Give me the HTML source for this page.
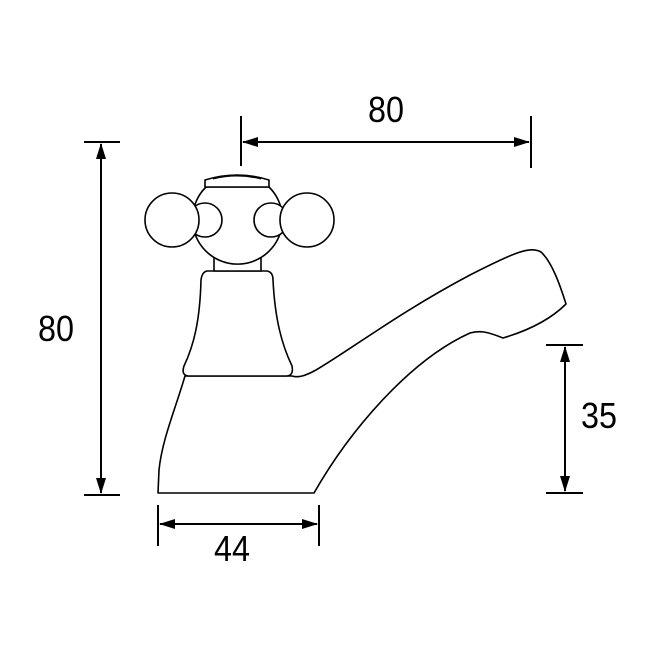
<!DOCTYPE html>
<html><head><style>html,body{margin:0;padding:0;background:#fff}</style></head>
<body>
<svg width="650" height="650" viewBox="0 0 650 650" xmlns="http://www.w3.org/2000/svg">
<defs>
<marker id="a" markerWidth="16" markerHeight="10" refX="15" refY="5" orient="auto" markerUnits="userSpaceOnUse">
<path d="M0,0 L16,5 L0,10 Z" fill="#000"/></marker>
</defs>
<g fill="none" stroke="#000" stroke-width="2">
<!-- dimension lines -->
<line x1="241" y1="116" x2="241" y2="166"/>
<line x1="531" y1="116" x2="531" y2="168"/>
<line x1="386" y1="142" x2="243" y2="142" marker-end="url(#a)"/>
<line x1="386" y1="142" x2="529" y2="142" marker-end="url(#a)"/>
<line x1="84" y1="142" x2="120" y2="142"/>
<line x1="84" y1="495" x2="120" y2="495"/>
<line x1="101" y1="320" x2="101" y2="144" marker-end="url(#a)"/>
<line x1="101" y1="320" x2="101" y2="493" marker-end="url(#a)"/>
<line x1="546" y1="345" x2="583" y2="345"/>
<line x1="546" y1="493" x2="583" y2="493"/>
<line x1="565" y1="420" x2="565" y2="347" marker-end="url(#a)"/>
<line x1="565" y1="420" x2="565" y2="491" marker-end="url(#a)"/>
<line x1="158" y1="505" x2="158" y2="546"/>
<line x1="319" y1="505" x2="319" y2="546"/>
<line x1="238" y1="524" x2="160" y2="524" marker-end="url(#a)"/>
<line x1="238" y1="524" x2="317" y2="524" marker-end="url(#a)"/>
</g>
<g fill="#fff" stroke="#000" stroke-width="1.6" stroke-linejoin="round">
<!-- base and spout -->
<path d="M185,376 C175,410 162,440 159,470 L158,493 L314,493 C350,430 410,360 470,333 C480,330 488,332 503,338 C530,330 552,318 566,304 C560,285 552,262 541,252 C530,246 515,252 470,275 C400,312 350,350 316,370 C305,376 298,378 292,376 Z"/>
<!-- bell -->
<path d="M207,271 L267,271 Q273,272 273,280 C275,320 282,345 292,366 Q294,376 286,376 L188,376 Q181,375 184,366 C194,345 200,320 201,280 Q202,272 207,271 Z"/>
<!-- neck -->
<rect x="214" y="253" width="47" height="18"/>
<!-- ball -->
<path d="M206,187 A45,45 0 1 0 269,187 Z"/>
<!-- cap -->
<path d="M205,187 L205,180 Q237,170 269,180 L269,187 Z"/>
<path d="M213,179 Q237,173 261,179" stroke-width="1"/>
<!-- small knobs -->
<circle cx="205" cy="220" r="17"/>
<circle cx="271" cy="220" r="17"/>
<!-- big knobs -->
<circle cx="172" cy="220" r="27"/>
<circle cx="307" cy="220" r="27"/>
</g>
<g font-family="Liberation Sans, sans-serif" font-size="36" fill="#000">
<text x="368" y="122" textLength="36" lengthAdjust="spacingAndGlyphs">80</text>
<text x="38" y="341" textLength="36" lengthAdjust="spacingAndGlyphs">80</text>
<text x="581" y="428" textLength="36" lengthAdjust="spacingAndGlyphs">35</text>
<text x="214" y="561" textLength="36" lengthAdjust="spacingAndGlyphs">44</text>
</g>
</svg>
</body></html>
